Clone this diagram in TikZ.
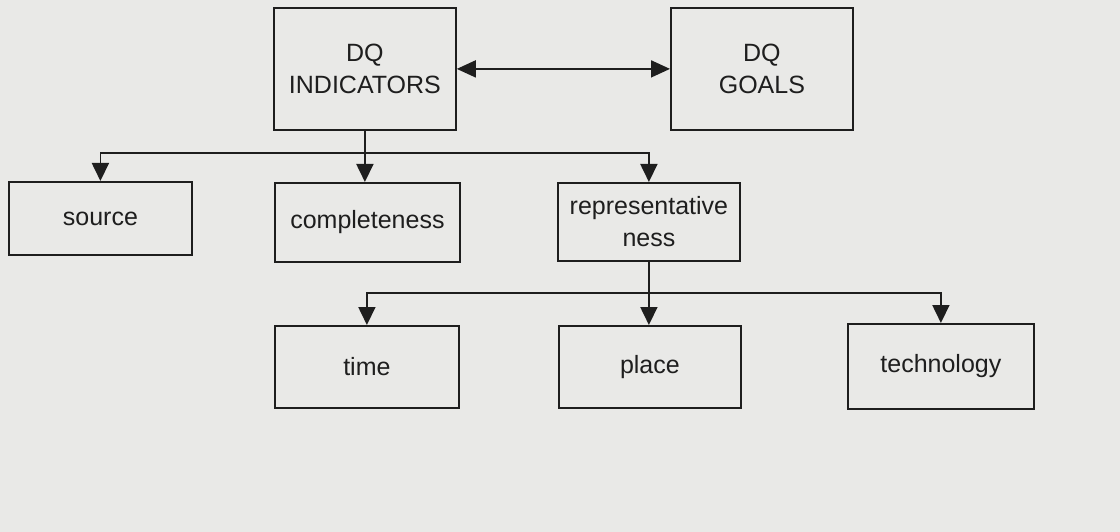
\documentclass[tikz,border=0pt]{standalone}
\usepackage{fontspec}
\setmainfont{Liberation Sans}
\usetikzlibrary{arrows.meta}
\definecolor{paper}{RGB}{233,233,231}
\definecolor{ink}{RGB}{30,30,30}
\begin{document}
\begin{tikzpicture}[x=1pt,y=-1pt,
  box/.style={draw=ink,line width=1.8pt,inner sep=0pt,anchor=north west,
    font=\fontsize{25}{32}\selectfont,text=ink,align=center},
  wire/.style={draw=ink,line width=1.8pt},
  link/.style={wire,-{Triangle[length=18pt,width=17pt]}},
  both/.style={wire,{Triangle[length=19pt,width=17pt]}-{Triangle[length=19pt,width=17pt]}}]
\fill[paper] (0,0) rectangle (1120,532);
\useasboundingbox (0,0) rectangle (1120,532);

% top level
\node[box,minimum width=182pt,minimum height=122pt] (ind) at (273,7) {DQ\\INDICATORS};
\node[box,minimum width=182pt,minimum height=122pt] (goals) at (670,7) {DQ\\GOALS};

% second level
\node[box,minimum width=183pt,minimum height=73pt] (src) at (8,181) {source};
\node[box,minimum width=185pt,minimum height=79pt] (comp) at (274,182) {completeness};
\node[box,minimum width=182pt,minimum height=78pt] (rep) at (557,182) {representative\\ness};

% third level
\node[box,minimum width=184pt,minimum height=82pt] (time) at (274,325) {time};
\node[box,minimum width=182pt,minimum height=82pt] (place) at (558,325) {place};
\node[box,minimum width=186pt,minimum height=85pt] (tech) at (847,323) {technology};

% branching points
\coordinate (j1) at (ind.south |- 0,153);
\coordinate (j2) at (rep.south |- 0,293);

\draw[both] (ind.east) -- (goals.west);

\draw[wire] (ind.south) -- (j1);
\draw[link] (j1) -- (j1 |- comp.north);
\draw[link] (j1) -| (src.north);
\draw[link] (j1) -| (rep.north);

\draw[wire] (rep.south) -- (j2);
\draw[link] (j2) -- (j2 |- place.north);
\draw[link] (j2) -| (time.north);
\draw[link] (j2) -| (tech.north);
\end{tikzpicture}
\end{document}
